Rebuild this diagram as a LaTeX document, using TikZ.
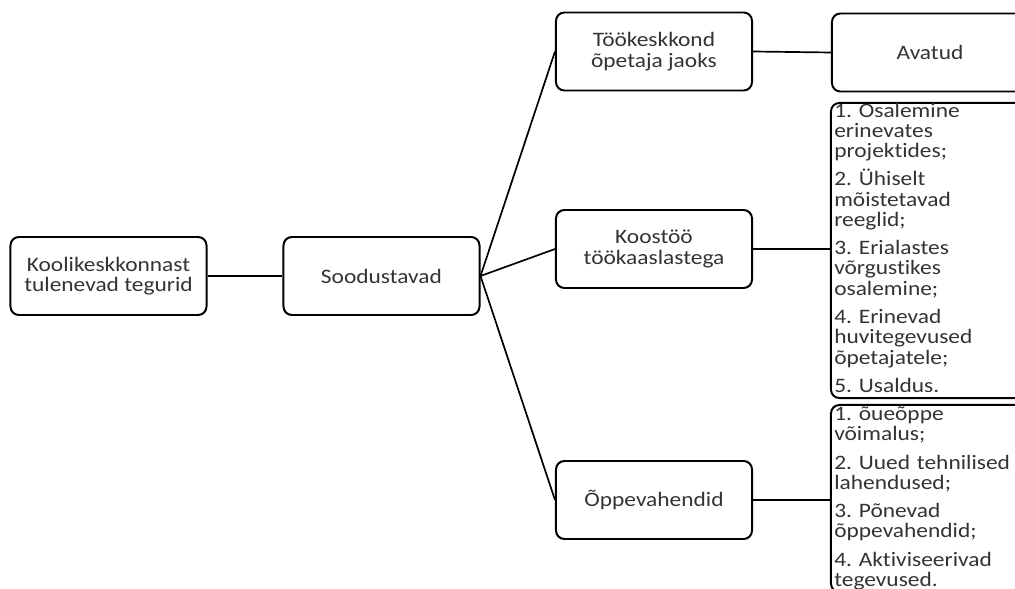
\documentclass[tikz,border=0pt]{standalone}
\usepackage{fontspec}
\setmainfont[FakeStretch=1.14, Ligatures={NoCommon}]{Carlito}
\usepackage{tikz}

\begin{document}
\frenchspacing
\begin{tikzpicture}[
    x=0.025cm, y=-0.025cm,
    every node/.style={inner sep=0pt, text=black!80},
    box/.style={draw=black, line width=1.4pt, rounded corners=6pt,
        minimum width=4.9cm, minimum height=1.95cm, align=center,
        font=\fontsize{14.6}{14.6}\selectfont},
    listbox/.style={draw=black, line width=1.4pt, rounded corners=6pt,
        minimum width=4.9cm},
    listtext/.style={text width=4.7cm, align=left,
        font=\fontsize{14.6}{14.4}\selectfont},
    link/.style={line width=1.2pt}
]
    \useasboundingbox (0,0) rectangle (1015,589);

    % 1. Define the nodes
    \node[box] (A) at (108.5,276) {Koolikeskkonnast\\tulenevad tegurid};
    \node[box] (B) at (381.5,276) {Soodustavad};
    \node[box] (C) at (654,51.5) {Töökeskkond\\õpetaja jaoks};
    \node[box] (D) at (930,52.5) {Avatud};
    \node[box] (E) at (654,249) {Koostöö\\töökaaslastega};
    \node[box] (F) at (654,500) {Õppevahendid};

    % the two lists (text runs past the box, so it is clipped)
    \node[listbox, minimum height=7.375cm] (G) at (929,250.5) {};
    \node[listbox, minimum height=4.675cm] (H) at (929,498.5) {};
    \begin{scope}
        \clip[rounded corners=6pt] (G.south west) rectangle (G.north east);
        \node[listtext, anchor=west] (Gt) at ([xshift=0.1cm,yshift=0.07cm]G.west) {1. Osalemine\\erinevates\\projektides;\\[5.7pt]
            2. Ühiselt\\mõistetavad\\reeglid;\\[5.7pt]
            3. Erialastes\\võrgustikes\\osalemine;\\[5.7pt]
            4. Erinevad\\huvitegevused\\õpetajatele;\\[5.7pt]
            5. Usaldus.};
    \end{scope}
    \begin{scope}
        \clip[rounded corners=6pt] (H.south west) rectangle (H.north east);
        \node[listtext, anchor=west] (Ht) at ([xshift=0.1cm]H.west) {1. õueõppe\\võimalus;\\[5.7pt]
            2. Uued tehnilised\\lahendused;\\[5.7pt]
            3. Põnevad\\õppevahendid;\\[5.7pt]
            4. Aktiviseerivad\\tegevused.};
    \end{scope}

    % 2. Draw the connectors
    \draw[link] (A.east) -- (B.west);

    % Soodustavad -> the three branches
    \draw[link] (B.east) -- (C.west);
    \draw[link] (B.east) -- (E.west);
    \draw[link] (B.east) -- (F.west);

    % branches -> right column
    \draw[link] (C.east) -- (D.west);
    \draw[link] (E.east) -- (E.east -| G.west);
    \draw[link] (F.east) -- (F.east -| H.west);

\end{tikzpicture}
\end{document}
